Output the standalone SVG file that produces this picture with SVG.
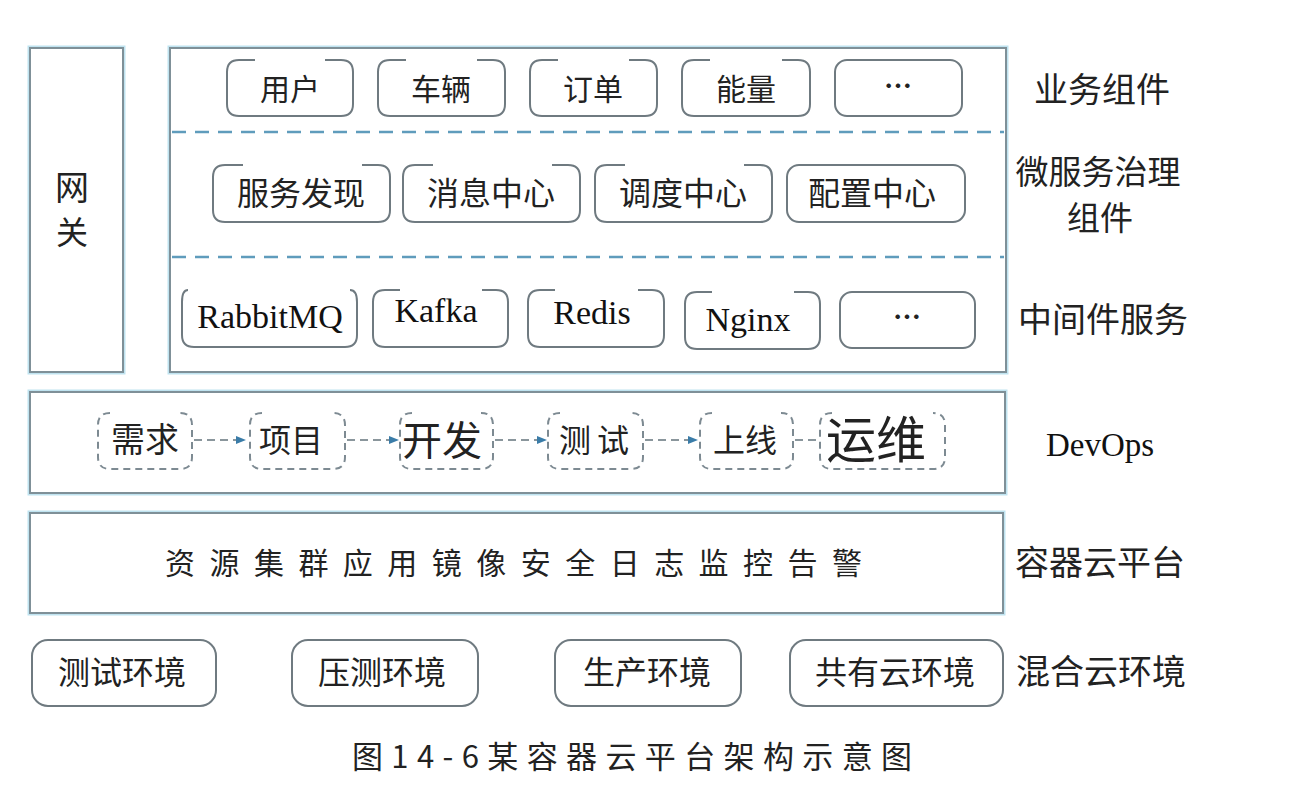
<svg xmlns="http://www.w3.org/2000/svg" width="1289" height="810" viewBox="0 0 1289 810">
<defs>
<style>
.frame{fill:#fff;stroke:#7f9098;stroke-width:2}
.glow{fill:none;stroke:#bfe3f0;stroke-width:5}
.pill{fill:none;stroke:#6f7a80;stroke-width:2}
.dpill{fill:none;stroke:#7d8a92;stroke-width:2;stroke-dasharray:7 5}
.div{stroke:#5f9cbc;stroke-width:2.5;stroke-dasharray:14 9}
.conn{stroke:#8a969c;stroke-width:2;stroke-dasharray:8 5;fill:none}
.zh{font-family:"Noto Sans CJK SC",sans-serif;fill:#222;text-anchor:middle}
.en{font-family:"Liberation Serif",serif;fill:#111;text-anchor:middle}
</style>
<marker id="ah" viewBox="0 0 10 10" refX="9" refY="5" markerWidth="10" markerHeight="10" orient="auto" markerUnits="userSpaceOnUse">
<path d="M0,1 L10,5 L0,9 z" fill="#3a7ca8"/>
</marker>
</defs>
<rect width="1289" height="810" fill="#fff"/>

<g id="gateway">
<rect class="glow" x="30" y="48" width="93" height="324"/>
<rect class="frame" x="30" y="48" width="93" height="324"/>
<text class="zh" x="72" y="200" font-size="34">网</text>
<text class="zh" x="72" y="244" font-size="32">关</text>
</g>

<g id="main-panel">
<rect class="glow" x="170" y="48" width="836" height="324"/>
<rect class="frame" x="170" y="48" width="836" height="324"/>
<line class="div" x1="172" y1="132" x2="1004" y2="132"/>
<line class="div" x1="172" y1="257" x2="1004" y2="257"/>
</g>

<g id="business">
<path class="pill" d="M255,60 H239 Q227,60 227,72 V104 Q227,116 239,116 H341 Q353,116 353,104 V72 Q353,60 341,60 H325"/>
<text class="zh" x="290" y="100" font-size="30">用户</text>
<path class="pill" d="M406,60 H390 Q378,60 378,72 V104 Q378,116 390,116 H493 Q505,116 505,104 V72 Q505,60 493,60 H477"/>
<text class="zh" x="441" y="100" font-size="30">车辆</text>
<path class="pill" d="M558,60 H542 Q530,60 530,72 V104 Q530,116 542,116 H645 Q657,116 657,104 V72 Q657,60 645,60 H629"/>
<text class="zh" x="593" y="100" font-size="30">订单</text>
<path class="pill" d="M710,60 H694 Q682,60 682,72 V104 Q682,116 694,116 H798 Q810,116 810,104 V72 Q810,60 798,60 H782"/>
<text class="zh" x="746" y="100" font-size="30">能量</text>
<rect class="pill" x="835" y="60" width="127" height="56" rx="12"/>
<text class="zh" x="898" y="97" font-size="28" font-weight="bold">…</text>
</g>

<g id="governance">
<path class="pill" d="M243,165 H225 Q213,165 213,177 V210 Q213,222 225,222 H378 Q390,222 390,210 V177 Q390,165 378,165 H362"/>
<text class="zh" x="301" y="205" font-size="32">服务发现</text>
<path class="pill" d="M433,165 H415 Q403,165 403,177 V210 Q403,222 415,222 H568 Q580,222 580,210 V177 Q580,165 568,165 H552"/>
<text class="zh" x="491" y="205" font-size="32">消息中心</text>
<path class="pill" d="M625,165 H607 Q595,165 595,177 V210 Q595,222 607,222 H760 Q772,222 772,210 V177 Q772,165 760,165 H744"/>
<text class="zh" x="683" y="205" font-size="32">调度中心</text>
<rect class="pill" x="787" y="165" width="178" height="57" rx="12"/>
<text class="zh" x="872" y="205" font-size="32">配置中心</text>
</g>

<g id="middleware">
<path class="pill" d="M188,290 Q182,290 182,302 V335 Q182,347 194,347 H345 Q357,347 357,335 V302 Q357,290 350,290"/>
<text class="en" x="270" y="328" font-size="34">RabbitMQ</text>
<path class="pill" d="M400,290 H385 Q373,290 373,302 V335 Q373,347 385,347 H496 Q508,347 508,335 V302 Q508,290 496,290 H482"/>
<text class="en" x="436" y="322" font-size="34">Kafka</text>
<path class="pill" d="M555,290 H540 Q528,290 528,302 V335 Q528,347 540,347 H652 Q664,347 664,335 V302 Q664,290 652,290 H638"/>
<text class="en" x="592" y="324" font-size="34">Redis</text>
<path class="pill" d="M712,292 H697 Q685,292 685,304 V337 Q685,349 697,349 H808 Q820,349 820,337 V304 Q820,292 808,292 H794"/>
<text class="en" x="748" y="331" font-size="34">Nginx</text>
<rect class="pill" x="840" y="292" width="135" height="56" rx="12"/>
<text class="zh" x="907" y="328" font-size="28" font-weight="bold">…</text>
</g>

<g id="devops">
<rect class="glow" x="30" y="392" width="975" height="101"/>
<rect class="frame" x="30" y="392" width="975" height="101"/>
<path class="dpill" d="M110,413 Q98,413 98,425 V457 Q98,469 110,469 H180 Q192,469 192,457 V425 Q192,413 180,413"/>
<text class="zh" x="145" y="452" font-size="34">需求</text>
<path class="dpill" d="M262,413 Q250,413 250,425 V457 Q250,469 262,469 H333 Q345,469 345,457 V425 Q345,413 333,413"/>
<text class="zh" x="291" y="452" font-size="32">项目</text>
<path class="dpill" d="M412,413 Q400,413 400,425 V457 Q400,469 412,469 H481 Q493,469 493,457 V425 Q493,413 481,413"/>
<text class="zh" x="442" y="455" font-size="40">开发</text>
<path class="dpill" d="M560,413 Q548,413 548,425 V457 Q548,469 560,469 H631 Q643,469 643,457 V425 Q643,413 631,413"/>
<text class="zh" x="597" y="452" font-size="32" letter-spacing="6">测试</text>
<path class="dpill" d="M712,413 Q700,413 700,425 V457 Q700,469 712,469 H781 Q793,469 793,457 V425 Q793,413 781,413"/>
<text class="zh" x="745" y="452" font-size="32">上线</text>
<path class="dpill" d="M832,413 Q820,413 820,425 V457 Q820,469 832,469 H933 Q945,469 945,457 V425 Q945,413 933,413"/>
<text class="zh" x="876" y="458" font-size="50">运维</text>
</g>

<g id="connectors">
<line class="conn" x1="194" y1="440" x2="245" y2="440" marker-end="url(#ah)"/>
<line class="conn" x1="347" y1="440" x2="398" y2="440" marker-end="url(#ah)"/>
<line class="conn" x1="495" y1="440" x2="546" y2="440" marker-end="url(#ah)"/>
<line class="conn" x1="645" y1="440" x2="697" y2="440" marker-end="url(#ah)"/>
<line class="conn" x1="795" y1="440" x2="820" y2="440"/>
</g>

<g id="container-platform">
<rect class="glow" x="30" y="513" width="973" height="100"/>
<rect class="frame" x="30" y="513" width="973" height="100"/>
<text class="zh" x="165" y="574" font-size="30" style="text-anchor:start" textLength="697" lengthAdjust="spacing">资源集群应用镜像安全日志监控告警</text>
</g>

<g id="environments">
<rect class="pill" x="32" y="640" width="184" height="66" rx="16"/>
<text class="zh" x="122" y="684" font-size="32">测试环境</text>
<rect class="pill" x="292" y="640" width="186" height="66" rx="16"/>
<text class="zh" x="382" y="684" font-size="32">压测环境</text>
<rect class="pill" x="555" y="640" width="186" height="66" rx="16"/>
<text class="zh" x="647" y="684" font-size="32">生产环境</text>
<rect class="pill" x="790" y="640" width="213" height="66" rx="16"/>
<text class="zh" x="895" y="684" font-size="32">共有云环境</text>
</g>

<g id="layer-labels">
<text class="zh" x="1102" y="102" font-size="34">业务组件</text>
<text class="zh" x="1098" y="184" font-size="33">微服务治理</text>
<text class="zh" x="1100" y="230" font-size="33">组件</text>
<text class="zh" x="1103" y="332" font-size="34">中间件服务</text>
<text class="en" x="1100" y="456" font-size="33">DevOps</text>
<text class="zh" x="1100" y="575" font-size="34">容器云平台</text>
<text class="zh" x="1101" y="684" font-size="34">混合云环境</text>
</g>

<g id="caption">
<text class="zh" x="352" y="768" font-size="31" style="text-anchor:start" textLength="560" lengthAdjust="spacing">图14-6某容器云平台架构示意图</text>
</g>
</svg>
